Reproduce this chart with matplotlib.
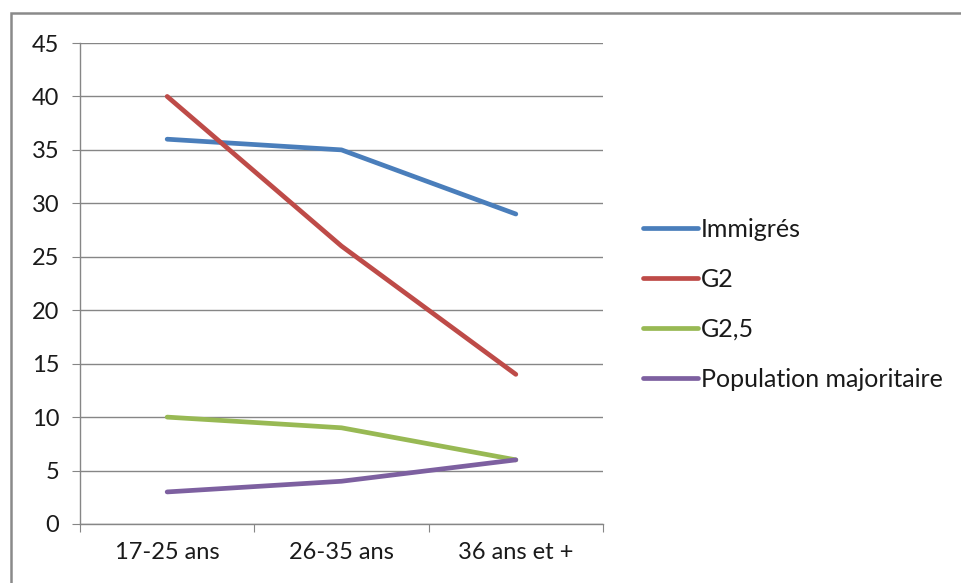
import matplotlib.pyplot as plt
from matplotlib.patches import Rectangle

plt.rcParams['font.family'] = ['Lato', 'DejaVu Sans']

# Data ─────────────────────────────────────────────
categories = ["17-25 ans", "26-35 ans", "36 ans et +"]
immigres = [36, 35, 29]
g2 = [40, 26, 14]
g2_5 = [10, 9, 6]
pop_maj = [3, 4, 6]

series_names = ["Immigrés", "G2", "G2,5", "Population majoritaire"]
series_values = [immigres, g2, g2_5, pop_maj]
colors = ["#4A7EBB", "#BE4B48", "#98B954", "#7D60A0"]

GRID = "#868686"
TEXT = "#1a1a1a"
FS = 17

fig = plt.figure(figsize=(9.61, 5.83), dpi=100)
fig.patch.set_facecolor("white")

# chart border (only top/left visible in the crop)
fig.patches.append(Rectangle((11 / 961, -0.1), 1.2, 1 - 13 / 583 + 0.1,
                             transform=fig.transFigure, fill=False,
                             edgecolor="#8a8a8a", linewidth=1.8))

ax = fig.add_axes([80 / 961, 1 - 524 / 583, 523 / 961, 481 / 583])

x = [0.5 + i for i in range(len(categories))]
for name, vals, c in zip(series_names, series_values, colors):
    ax.plot(x, vals, color=c, linewidth=3.4, label=name,
            solid_joinstyle="round", solid_capstyle="round")

ax.set_xlim(0, len(categories))
ax.set_ylim(0, 45)
ax.set_yticks(range(0, 46, 5))
ax.set_xticks(range(len(categories) + 1))
ax.set_xticklabels([])
ax.set_xticks(x, minor=True)
ax.set_xticklabels(categories, minor=True)

ax.grid(axis="y", color=GRID, linewidth=1)
ax.set_axisbelow(True)
for s in ["top", "right"]:
    ax.spines[s].set_visible(False)
for s in ["left", "bottom"]:
    ax.spines[s].set_color(GRID)
    ax.spines[s].set_linewidth(1)

ax.tick_params(axis="y", length=5.8, color=GRID, labelsize=FS, labelcolor=TEXT, pad=9)
ax.tick_params(axis="x", which="major", length=5.8, color=GRID)
ax.tick_params(axis="x", which="minor", length=0, labelsize=FS, labelcolor=TEXT, pad=13)

leg = ax.legend(loc="upper left", bbox_to_anchor=(643 / 961, 1 - 218 / 583),
                bbox_transform=fig.transFigure, frameon=False, fontsize=18,
                handlelength=2.2, handletextpad=0.12, labelspacing=1.08,
                borderaxespad=0, borderpad=0)
for t in leg.get_texts():
    t.set_color(TEXT)

fig.savefig("out.png", dpi=100)
